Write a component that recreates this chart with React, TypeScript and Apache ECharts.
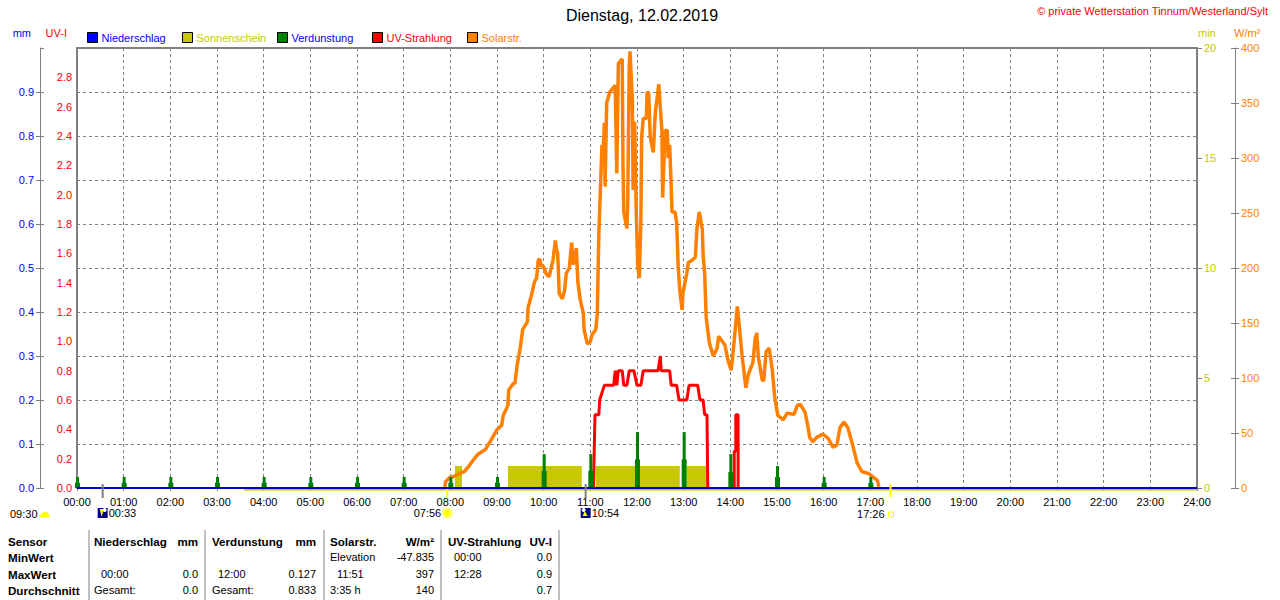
import React, { useEffect, useRef } from "react";
import * as echarts from "echarts";

const FONT = '"Liberation Sans", Arial, sans-serif';
const GRAY = "#808080";
const BLUE = "#0000ff";
const OLIVE = "#c8c800";
const GREEN = "#008000";
const RED = "#ff0000";
const ORANGE = "#ff8000";

const titleText = "Dienstag, 12.02.2019";
const creditText = "© private Wetterstation Tinnum/Westerland/Sylt";
const legendNames = ["Niederschlag", "Sonnenschein", "Verdunstung", "UV-Strahlung", "Solarstr."];

// minutes of the day / W/m²
const solarMinutes = [473,474,480,483,492,498,504,509,516,525,531,540,546,548,554,555,561,563,566,570,573,579,580,585,588,591,593,595,597,600,603,607,609,612,615,617,618,620,624,627,629,633,636,638,642,644,647,651,652,656,660,662,667,669,670,671,674,675,676,678,679,681,685,692,694,696,701,702,703,707,708,710,711,714,715,716,717,719,721,723,725,726,728,732,733,735,737,741,743,744,748,752,753,756,759,760,762,764,765,769,771,773,775,778,779,784,786,791,795,797,800,804,805,807,809,813,818,823,825,833,837,841,843,847,849,851,855,860,863,869,872,874,876,881,883,886,890,894,897,901,908,913,922,926,930,936,940,942,946,951,959,966,972,977,981,986,991,998,1003,1009,1018,1029,1031];
const solarValues = [1,6,10,10,13,15,20,25,31,35,42,53,57,66,75,89,95,95,112,128,144,151,164,177,187,191,207,208,202,201,195,192,198,207,225,215,214,177,172,180,195,200,223,203,218,187,171,159,144,131,133,139,144,159,198,232,292,312,294,332,274,350,360,366,286,386,390,292,251,236,255,383,397,353,271,332,332,253,201,191,244,319,336,336,360,359,319,305,335,344,367,325,264,325,325,300,312,274,251,251,241,201,180,162,177,195,205,207,210,235,251,235,212,195,155,132,120,127,138,130,116,107,119,150,165,151,121,91,103,114,136,141,119,98,98,124,127,107,83,66,62,68,67,75,76,69,55,46,42,46,49,45,37,39,55,60,55,37,23,15,13,7,1];

// minutes of the day / UV index (null = no line)
const uvMinutes = [664,665,666,671,672,678,690,692,694,696,701,703,707,710,716,720,725,728,747,750,751,762,764,771,774,784,787,798,801,805,807,810,811,830,845,845,847,847,850,850];
const uvValues = [0,0.25,0.5,0.5,0.6,0.7,0.7,0.8,0.7,0.8,0.8,0.7,0.7,0.8,0.8,0.7,0.7,0.8,0.8,0.9,0.8,0.8,0.7,0.7,0.6,0.6,0.7,0.7,0.6,0.6,0.5,0.5,0,null,0,0.25,0.25,0.5,0.5,0];

// evaporation spikes: hour, peak and shoulder in mm
const evapHours = [0,1,2,3,4,5,6,7,8,9,10,11,12,13,14,15,16,17];
const evapPeak = [0.025,0.025,0.025,0.025,0.025,0.025,0.025,0.025,0.025,0.025,0.077,0.077,0.127,0.127,0.077,0.05,0.025,0.025];
const evapBase = [0.012,0.012,0.012,0.012,0.012,0.012,0.012,0.012,0.012,0.012,0.039,0.039,0.065,0.065,0.036,0.025,0.012,0.012];

// sunshine blocks: start, end (minutes), value (min)
const sunStart = [215,486,554,667,784];
const sunEnd = [1440,495,649,775,809];
const sunValue = [0,1,1,1,1];

const rainMinutes = [0,1440];
const rainValues = [0,0];

const eventMinutes = [33,476,654,1046];
const eventLabels = ["00:33","07:56","10:54","17:26"];
const eventKinds = [0,1,2,3];
const dayLengthLabel = "09:30";

const xTickHours = ["00:00","01:00","02:00","03:00","04:00","05:00","06:00","07:00","08:00","09:00","10:00","11:00","12:00","13:00","14:00","15:00","16:00","17:00","18:00","19:00","20:00","21:00","22:00","23:00","24:00"];

const tableBold = [
  ["Sensor",8,541,"left"],["MinWert",8,557,"left"],["MaxWert",8,574,"left"],["Durchschnitt",8,590,"left"],
  ["Niederschlag",94,541,"left"],["mm",198,541,"right"],
  ["Verdunstung",212,541,"left"],["mm",316,541,"right"],
  ["Solarstr.",330,541,"left"],["W/m²",434,541,"right"],
  ["UV-Strahlung",448,541,"left"],["UV-I",552,541,"right"],
];
const tablePlain = [
  ["00:00",101,574,"left"],["0.0",198,574,"right"],["Gesamt:",94,590,"left"],["0.0",198,590,"right"],
  ["12:00",218,574,"left"],["0.127",316,574,"right"],["Gesamt:",212,590,"left"],["0.833",316,590,"right"],
  ["Elevation",330,557,"left"],["-47.835",434,557,"right"],["11:51",337,574,"left"],["397",434,574,"right"],["3:35 h",330,590,"left"],["140",434,590,"right"],
  ["00:00",454,557,"left"],["0.0",552,557,"right"],["12:28",454,574,"left"],["0.9",552,574,"right"],["0.7",552,590,"right"],
];
const tableRules = [89,205,324,441,559];

function evapRender(params: any, api: any) {
  const x = api.coord([api.value(0), 0])[0];
  const y0 = api.coord([0, 0])[1];
  const yp = api.coord([0, api.value(1)])[1];
  const yb = api.coord([0, api.value(2)])[1];
  return {
    type: "group",
    children: [
      { type: "rect", shape: { x: x - 2, y: yb, width: 5, height: y0 - yb }, style: { fill: GREEN } },
      { type: "rect", shape: { x: x - 1, y: yp, width: 3, height: y0 - yp }, style: { fill: GREEN } },
    ],
  };
}

function sunRender(params: any, api: any) {
  const a = api.coord([api.value(0), 0]);
  const b = api.coord([api.value(1), api.value(2)]);
  const h = a[1] - b[1];
  return { type: "rect", shape: { x: a[0], y: h > 0 ? b[1] : a[1], width: b[0] - a[0], height: h > 0 ? h : 2.5 }, style: { fill: OLIVE } };
}

function eventRender(params: any, api: any) {
  const [x, y0] = api.coord([api.value(0), 0]);
  const i = params.dataIndex;
  const kind = eventKinds[i];
  const children: any[] = [];
  const cy = y0 + 25;
  const isMoon = kind === 0 || kind === 2;
  children.push({ type: "rect", shape: { x: x - 1, y: kind === 1 ? y0 + 1 : y0 - 4, width: 2, height: kind === 1 ? 8 : kind === 3 ? 13 : 14 }, style: { fill: isMoon ? GRAY : "#ffff00" } });
  if (isMoon) {
    children.push({ type: "rect", shape: { x: x - 5, y: cy - 5, width: 10, height: 10 }, style: { fill: "#000080" } });
    children.push({ type: "circle", shape: { cx: kind === 0 ? x + 2 : x - 2, cy: cy - 3, r: 2 }, style: { fill: "#ffffff" } });
    children.push({ type: "polygon", shape: { points: kind === 0 ? [[x - 3, cy - 4], [x + 1, cy - 4], [x - 1, cy + 4]] : [[x - 1, cy - 2], [x + 2, cy + 3], [x - 3, cy + 3]] }, style: { fill: "#ffff00" } });
    children.push({ type: "text", x: x + 6, y: cy, style: { text: eventLabels[i], fill: "#000", font: `11px ${FONT}`, textAlign: "left", textVerticalAlign: "middle" } });
  } else if (kind === 1) {
    children.push({ type: "circle", shape: { cx: x, cy, r: 6 }, style: { fill: "#ffff90" } });
    children.push({ type: "circle", shape: { cx: x, cy, r: 3.5 }, style: { fill: "#ffff00" } });
    children.push({ type: "text", x: x - 6, y: cy, style: { text: eventLabels[i], fill: "#000", font: `11px ${FONT}`, textAlign: "right", textVerticalAlign: "middle" } });
  } else {
    children.push({ type: "rect", shape: { x: x - 2, y: cy - 1, width: 5, height: 5 }, style: { fill: "#fff", stroke: "#ffff00", lineWidth: 1 } });
    children.push({ type: "text", x: x - 6, y: cy + 1, style: { text: eventLabels[i], fill: "#000", font: `11px ${FONT}`, textAlign: "right", textVerticalAlign: "middle" } });
  }
  return { type: "group", children };
}

function makeLegend(i: number, left: number, color: string) {
  return {
    data: [legendNames[i]], left, top: 32, icon: "rect", itemWidth: 10, itemHeight: 10, itemGap: 0, padding: 0,
    selectedMode: false,
    itemStyle: { borderColor: "#000", borderWidth: 1 },
    textStyle: { color, fontSize: 11, fontFamily: FONT, padding: [0, 0, 0, -1] },
  };
}

function axisText(color: string) { return { color, fontSize: 11, fontFamily: FONT }; }

function buildOption() {
  const graphicEls: any[] = [];
  const txt = (t: any[], bold: boolean) => ({
    type: "text", x: t[1], y: t[2],
    style: { text: t[0], fill: "#000", font: `${bold ? "bold 11.6px" : "11px"} ${FONT}`, textAlign: t[3], textVerticalAlign: "middle" },
  });
  tableBold.forEach((t) => graphicEls.push(txt(t, true)));
  tablePlain.forEach((t) => graphicEls.push(txt(t, false)));
  tableRules.forEach((x) => graphicEls.push({ type: "line", shape: { x1: x, y1: 530, x2: x, y2: 600 }, style: { stroke: GRAY, lineWidth: 1 } }));
  graphicEls.push({ type: "text", x: 10, y: 514, style: { text: dayLengthLabel, fill: "#000", font: `11px ${FONT}`, textVerticalAlign: "middle" } });
  graphicEls.push({ type: "sector", shape: { cx: 45, cy: 517, r: 5, r0: 0, startAngle: Math.PI, endAngle: 2 * Math.PI }, style: { fill: "#ffff00" } });
  graphicEls.push({ type: "text", x: 1268, y: 11, style: { text: creditText, fill: RED, font: `11px ${FONT}`, textAlign: "right", textVerticalAlign: "middle" } });

  return {
    animation: false,
    backgroundColor: "#fff",
    title: {
      text: titleText, left: 637, top: 2, textAlign: "center",
      textStyle: { color: "#000", fontSize: 16, fontWeight: "normal", fontFamily: FONT },
    },
    legend: [
      makeLegend(0, 87, BLUE), makeLegend(1, 182, OLIVE), makeLegend(2, 277, BLUE), makeLegend(3, 372, RED), makeLegend(4, 467, ORANGE),
    ],
    grid: { left: 77, right: 83, top: 48, bottom: 112, show: true, borderColor: GRAY, borderWidth: 2, backgroundColor: "transparent", containLabel: false },
    xAxis: {
      type: "value", min: 0, max: 1440, interval: 60,
      axisLine: { show: false, onZero: false },
      axisTick: { show: true, length: 3, lineStyle: { color: GRAY } },
      axisLabel: { ...axisText("#000"), margin: 8, showMinLabel: true, showMaxLabel: true, formatter: (v: number) => xTickHours[v / 60] },
      splitLine: { show: true, lineStyle: { color: GRAY, type: [3, 3], width: 1 } },
    },
    yAxis: [
      {
        type: "value", position: "left", offset: 37, min: 0, max: 1, interval: 0.1,
        name: "mm", nameLocation: "end", nameGap: 15, nameTextStyle: { ...axisText(BLUE), align: "right", verticalAlign: "middle", padding: [0, 9, 0, 0] },
        axisLine: { show: true, onZero: false, lineStyle: { color: GRAY } }, axisTick: { show: true, length: 4, lineStyle: { color: GRAY } },
        axisLabel: { ...axisText(BLUE), margin: 6, showMaxLabel: false, formatter: (v: number) => v.toFixed(1) },
        splitLine: { show: true, lineStyle: { color: GRAY, type: [3, 3], width: 1 } },
      },
      {
        type: "value", position: "left", offset: 0, min: 0, max: 3, interval: 0.2,
        name: "UV-I", nameLocation: "end", nameGap: 15, nameTextStyle: { ...axisText(RED), align: "right", verticalAlign: "middle", padding: [0, 10, 0, 0] },
        axisLine: { show: false, onZero: false }, axisTick: { show: false },
        axisLabel: { ...axisText(RED), margin: 5, showMaxLabel: false, formatter: (v: number) => v.toFixed(1) },
        splitLine: { show: false },
      },
      {
        type: "value", position: "right", offset: 0, min: 0, max: 20, interval: 5,
        name: "min", nameLocation: "end", nameGap: 15, nameTextStyle: { ...axisText(OLIVE), align: "left", verticalAlign: "middle", padding: [0, 0, 0, 1] },
        axisLine: { show: false, onZero: false }, axisTick: { show: true, length: 5, lineStyle: { color: GRAY } },
        axisLabel: { ...axisText(OLIVE), margin: 7 },
        splitLine: { show: false },
      },
      {
        type: "value", position: "right", offset: 38, min: 0, max: 400, interval: 50,
        name: "W/m²", nameLocation: "end", nameGap: 15, nameTextStyle: { ...axisText(ORANGE), align: "left", verticalAlign: "middle", padding: [0, 0, 0, -1] },
        axisLine: { show: true, onZero: false, lineStyle: { color: GRAY } }, axisTick: { show: true, length: 4, lineStyle: { color: GRAY } },
        axisLabel: { ...axisText(ORANGE), margin: 6 },
        splitLine: { show: false },
      },
      {
        type: "value", position: "left", offset: 37, min: 0, max: 1, interval: 0.1,
        axisLine: { show: false, onZero: false }, axisTick: { show: true, inside: true, length: 4, lineStyle: { color: GRAY } },
        axisLabel: { show: false }, splitLine: { show: false },
      },
      {
        type: "value", position: "right", offset: 38, min: 0, max: 400, interval: 50,
        axisLine: { show: false, onZero: false }, axisTick: { show: true, inside: true, length: 4, lineStyle: { color: GRAY } },
        axisLabel: { show: false }, splitLine: { show: false },
      },
    ],
    series: [
      {
        name: "Sonnenschein", type: "custom", yAxisIndex: 2, z: 2, clip: false, silent: true, itemStyle: { color: OLIVE },
        encode: { x: [0, 1], y: 2 }, renderItem: sunRender,
        data: sunStart.map((s, i) => [s, sunEnd[i], sunValue[i]]),
      },
      {
        name: "Solarstr.", type: "line", yAxisIndex: 3, z: 3, symbol: "none", itemStyle: { color: ORANGE },
        lineStyle: { color: ORANGE, width: 3.5 }, data: solarMinutes.map((m, i) => [m, solarValues[i]]),
      },
      {
        name: "UV-Strahlung", type: "line", yAxisIndex: 1, z: 4, symbol: "none", clip: false, itemStyle: { color: RED },
        lineStyle: { color: RED, width: 3 }, data: uvMinutes.map((m, i) => [m, uvValues[i]]),
      },
      {
        name: "Verdunstung", type: "custom", yAxisIndex: 0, z: 5, clip: false, silent: true, itemStyle: { color: GREEN },
        encode: { x: 0, y: 1 }, renderItem: evapRender,
        data: evapHours.map((h, i) => [h * 60, evapPeak[i], evapBase[i]]),
      },
      {
        name: "Niederschlag", type: "line", yAxisIndex: 0, z: 6, symbol: "none", clip: false, itemStyle: { color: BLUE },
        lineStyle: { color: "#0000c8", width: 2 }, data: rainMinutes.map((m, i) => [m, rainValues[i]]),
      },
      {
        name: "Ereignisse", type: "custom", yAxisIndex: 0, z: 7, clip: false, silent: true,
        encode: { x: 0, y: 1 }, renderItem: eventRender,
        data: eventMinutes.map((m) => [m, 0]),
      },
    ],
    graphic: graphicEls,
  };
}

export default function App() {
  const ref = useRef<HTMLDivElement>(null);
  useEffect(() => {
    const chart = echarts.init(ref.current!, null, { renderer: "svg" });
    chart.setOption(buildOption() as any);
    return () => chart.dispose();
  }, []);
  return <div ref={ref} style={{ position: "absolute", left: 0, top: 0, width: 1280, height: 600 }} />;
}
